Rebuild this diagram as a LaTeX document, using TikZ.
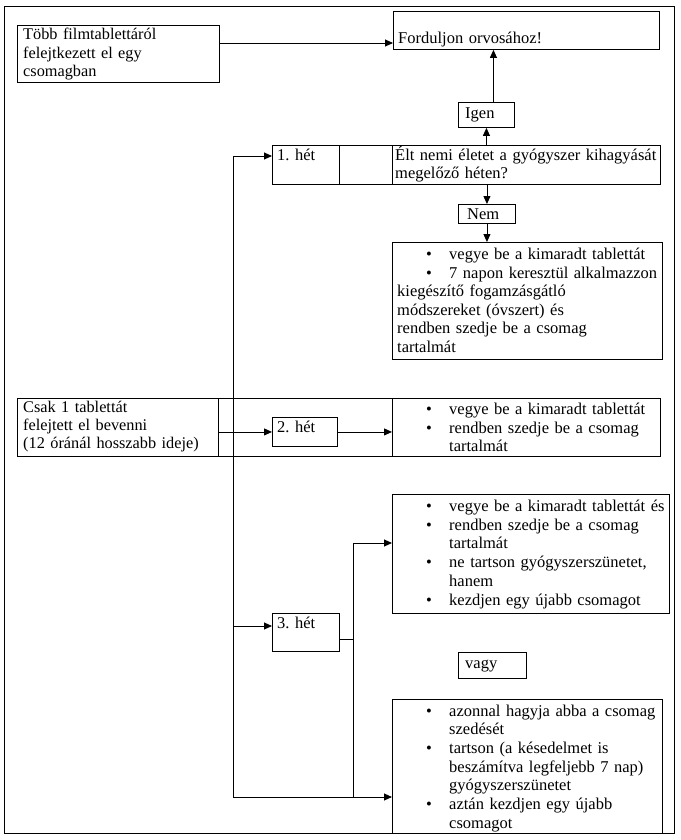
\documentclass[tikz,border=0pt]{standalone}
\usepackage{fontspec}
\setmainfont{Liberation Serif}
\usetikzlibrary{
  arrows.meta,
  positioning,
  calc
}
\frenchspacing

% bullet line with hanging indent
\newcommand{\pont}[1][52pt]{\hangindent=#1\hangafter=1\hspace*{29pt}\makebox[23pt][l]{\textbullet}}

\tikzset{
  doboz/.style={draw, line width=0.9pt, anchor=north west, inner sep=0pt},
  szoveg/.style={anchor=base west, inner sep=0pt, align=left, text width=275pt,
    execute at begin node={\setlength{\parskip}{0.5pt}}},
  balszoveg/.style={szoveg, font=\fontsize{16.3}{18.2}\selectfont},
  nyil/.style={-{Triangle[length=8pt,width=7pt]}, line width=0.9pt},
  vonal/.style={line width=0.9pt}
}

\begin{document}
\begin{tikzpicture}[
  x=1pt, y=-1pt,
  every node/.style={font=\fontsize{16.5}{18.5}\selectfont}
]
\useasboundingbox (0,0) rectangle (680,840);

% frame
\draw[vonal] (4,6) rectangle (674,833);

% Több filmtablettáról
\node[doboz, minimum width=202pt, minimum height=57pt] (tobb) at (17,25) {};
\node[balszoveg] (tobbszoveg) at (23,40) {Több filmtablettáról\\felejtkezett el egy\\csomagban};

% Forduljon orvosához
\node[doboz, minimum width=266pt, minimum height=38pt] (ford) at (393,11) {};
\node[szoveg] (fordszoveg) at (398,44) {Forduljon orvosához!};

% Igen
\node[doboz, minimum width=56pt, minimum height=25pt] (igen) at (458,102) {};
\node[szoveg] (igenszoveg) at (465,119) {Igen};

% 1. hét
\node[doboz, minimum width=67pt, minimum height=39pt] (het1) at (272,145) {};
\node[doboz, minimum width=53pt, minimum height=39pt] (ures1) at (339,145) {};
\node[doboz, minimum width=268pt, minimum height=39pt] (kerdes) at (392,145) {};
\node[szoveg] (het1szoveg) at (277,160) {1. hét};
\node[szoveg] (kerdesszoveg) at (395,160) {Élt nemi életet a gyógyszer kihagyását\\megelőző héten?};

% Nem
\node[doboz, minimum width=57pt, minimum height=19pt] (nem) at (458,204) {};
\node[szoveg] (nemszoveg) at (467,219) {Nem};

\node[doboz, minimum width=270pt, minimum height=117pt] (lista1) at (392,242) {};
\node[szoveg] (lista1szoveg) at (397,259) {\pont vegye be a kimaradt tablettát\par
  \pont[0pt]7 napon keresztül alkalmazzon\newline kiegészítő fogamzásgátló\newline
  módszereket (óvszert) és\newline rendben szedje be a csomag\newline tartalmát\par};

% 2. hét
\node[doboz, minimum width=201pt, minimum height=58pt] (csak) at (17,398) {};
\node[doboz, minimum width=174pt, minimum height=58pt] (kozep2) at (218,398) {};
\node[doboz, minimum width=268pt, minimum height=58pt] (lista2) at (392,398) {};
\node[balszoveg] (csakszoveg) at (23,412) {Csak 1 tablettát\\felejtett el bevenni\\(12 óránál hosszabb ideje)};
\node[doboz, minimum width=65pt, minimum height=29pt] (het2) at (272,417) {};
\node[szoveg] (het2szoveg) at (277,432) {2. hét};
\node[szoveg] (lista2szoveg) at (397,414) {\pont vegye be a kimaradt tablettát\par
  \pont rendben szedje be a csomag\newline tartalmát\par};

% 3. hét
\node[doboz, minimum width=67pt, minimum height=38pt] (het3) at (272,613) {};
\node[szoveg] (het3szoveg) at (277,628) {3. hét};
\node[doboz, minimum width=277pt, minimum height=119pt] (lista3a) at (392,494) {};
\node[szoveg] (lista3aszoveg) at (397,511) {\pont vegye be a kimaradt tablettát és\par
  \pont rendben szedje be a csomag\newline tartalmát\par
  \pont ne tartson gyógyszerszünetet,\newline hanem\par
  \pont kezdjen egy újabb csomagot\par};
\node[doboz, minimum width=68pt, minimum height=26pt] (vagy) at (458,652) {};
\node[szoveg] (vagyszoveg) at (465,668) {vagy};
\node[doboz, minimum width=270pt, minimum height=134pt] (lista3b) at (392,699) {};
\node[szoveg] (lista3bszoveg) at (397,716) {\pont azonnal hagyja abba a csomag\newline szedését\par
  \pont tartson (a késedelmet is\newline beszámítva legfeljebb 7 nap)\newline gyógyszerszünetet\par
  \pont aztán kezdjen egy újabb\newline csomagot\par};

% connectors
\coordinate (tobbki) at (219,43);
\draw[nyil] (tobbki) -- (tobbki -| ford.west);
\draw[nyil] (igen.south |- kerdes.north) -- (igen.south);
\draw[nyil] ([xshift=7pt]igen.north) -- ([xshift=7pt]igen.north |- ford.south);
\draw[nyil] (nem.north |- kerdes.south) -- (nem.north);
\draw[nyil] (nem.south) -- (nem.south |- lista1.north);

% trunk
\coordinate (torzsfent) at (233,156);
\coordinate (torzslent) at (233,797);
\coordinate (het3be) at (233,626);
\draw[vonal] (torzslent) -- (torzsfent);
\draw[nyil] (torzsfent) -- (torzsfent -| het1.west);
\draw[nyil] (het3be) -- (het3be -| het3.west);
\draw[nyil] (torzslent) -- (torzslent -| lista3b.west);
\draw[nyil] (het2.west -| csak.east) -- (het2.west);
\draw[nyil] (het2.east) -- (het2.east -| lista2.west);

% fork after 3. hét
\coordinate (het3ki) at (339,639);
\coordinate (elagazas) at (353,543);
\draw[vonal] (het3ki) -- (het3ki -| elagazas);
\draw[vonal] (elagazas) -- (elagazas |- torzslent);
\draw[nyil] (elagazas) -- (elagazas -| lista3a.west);

\end{tikzpicture}
\end{document}
